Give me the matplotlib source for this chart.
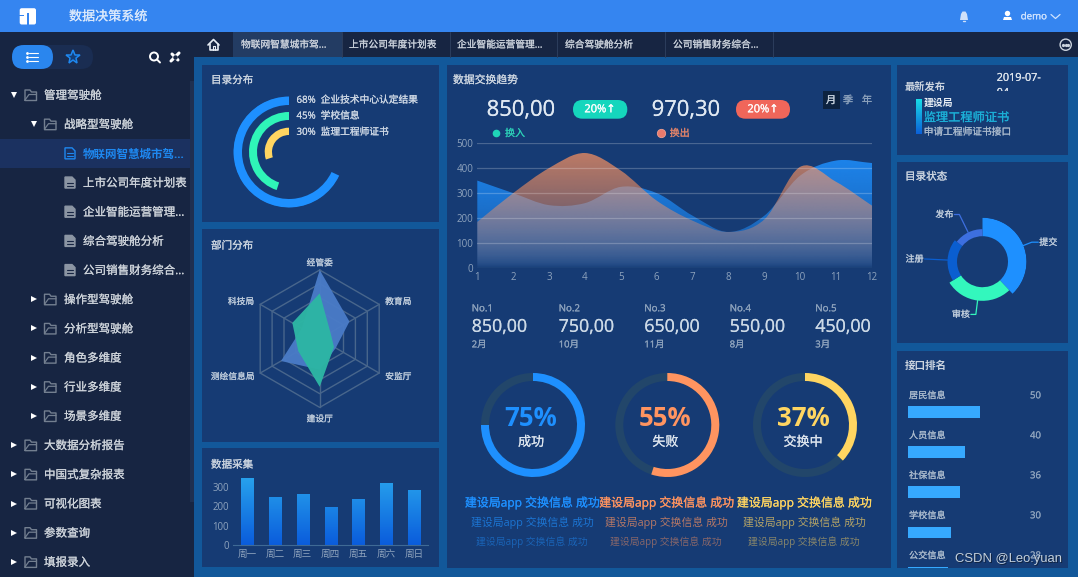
import numpy as np
import matplotlib
matplotlib.use("Agg")
import matplotlib.pyplot as plt
import matplotlib.patheffects as pe
from matplotlib.patches import Rectangle, FancyBboxPatch, PathPatch, Circle, Polygon
from matplotlib.path import Path
from matplotlib.colors import to_rgb
from matplotlib.transforms import Bbox, TransformedBbox

plt.rcParams['font.family'] = ['Open Sans', 'Noto Sans CJK SC', 'DejaVu Sans']

# ---------- data ----------
app_title = "数据决策系统"
tree_rows = [
    (0, "管理驾驶舱", "open"), (1, "战略型驾驶舱", "open"),
    (2, "物联网智慧城市驾...", "active"), (2, "上市公司年度计划表", "doc"),
    (2, "企业智能运营管理...", "doc"), (2, "综合驾驶舱分析", "doc"),
    (2, "公司销售财务综合...", "doc"), (1, "操作型驾驶舱", "shut"),
    (1, "分析型驾驶舱", "shut"), (1, "角色多维度", "shut"),
    (1, "行业多维度", "shut"), (1, "场景多维度", "shut"),
    (0, "大数据分析报告", "shut"), (0, "中国式复杂报表", "shut"),
    (0, "可视化图表", "shut"), (0, "参数查询", "shut"), (0, "填报录入", "shut"),
]
tab_names = ["物联网智慧城市驾...", "上市公司年度计划表", "企业智能运营管理...",
             "综合驾驶舱分析", "公司销售财务综合..."]

radial_pct = [68, 45, 30]
radial_names = ["企业技术中心认定结果", "学校信息", "监理工程师证书"]

radar_axes_names = ["经管委", "教育局", "安监厅", "建设厅", "测绘信息局", "科技局"]
radar_blue = [100, 50, 27, 45, 65, 30]
radar_green = [66, 18, 24, 70, 36, 46]

weekdays = ["周一", "周二", "周三", "周四", "周五", "周六", "周日"]
collect_values = [350, 250, 266, 196, 240, 320, 284]

months = [1, 2, 3, 4, 5, 6, 7, 8, 9, 10, 11, 12]
swap_in = [350, 300, 252, 260, 325, 300, 210, 145, 210, 370, 430, 420]
swap_out = [185, 300, 400, 460, 390, 270, 190, 145, 195, 405, 345, 250]

rank_no = ["No.1", "No.2", "No.3", "No.4", "No.5"]
rank_val = ["850,00", "750,00", "650,00", "550,00", "450,00"]
rank_month = ["2月", "10月", "11月", "8月", "3月"]

gauge_pct = [75, 55, 37]
gauge_names = ["成功", "失败", "交换中"]
ticker_text = "建设局app 交换信息 成功"

status_names = ["提交", "审核", "注册", "发布"]
status_values = [38, 28, 19.5, 14.5]

iface_names = ["居民信息", "人员信息", "社保信息", "学校信息", "公交信息"]
iface_values = [50, 40, 36, 30, 28]

# ---------- palette ----------
W, H = 1078, 577
C_TOP = "#3585f0"; C_SIDE = "#172542"; C_BG = "#12589a"; C_PANEL = "#163b74"
C_TXT = "#ccd5e0"; C_DIM = "#8ea3bd"; C_BLUE = "#1e90ff"; C_TEAL = "#2ff5b8"
C_YEL = "#ffd561"; C_ORG = "#ff9460"

fig = plt.figure(figsize=(W / 100, H / 100), dpi=100, facecolor=C_BG)
ui = fig.add_axes([0, 0, 1, 1])
ui.set_xlim(0, W); ui.set_ylim(H, 0); ui.axis('off')


def T(x, y, s, size=7, color=C_TXT, ha='left', va='center', heavy=0.14, **kw):
    t = ui.text(x, y + 0.8, s, fontsize=size, color=color, ha=ha, va=va, **kw)
    if heavy:
        t.set_path_effects([pe.withStroke(linewidth=heavy, foreground=color)])
    return t


def box(x0, y0, x1, y1, color, **kw):
    ui.add_patch(Rectangle((x0, y0), x1 - x0, y1 - y0, facecolor=color, edgecolor='none', **kw))


def pill(x0, y0, x1, y1, color):
    r = (y1 - y0) / 2
    ui.add_patch(FancyBboxPatch((x0 + r, y0 + r), x1 - x0 - 2 * r, 0,
                                boxstyle=f"round,pad={r},rounding_size={r}",
                                facecolor=color, edgecolor='none', mutation_aspect=1))


def line(xs, ys, color, lw=1.0, **kw):
    ui.plot(xs, ys, color=color, lw=lw, solid_capstyle='round', **kw)


def sub_axes(x0, y0, x1, y1):
    a = fig.add_axes([x0 / W, 1 - y1 / H, (x1 - x0) / W, (y1 - y0) / H])
    a.patch.set_alpha(0)
    return a


def polar_axes(cx, cy, R, rmax=None, ccw=False):
    a = fig.add_axes([(cx - R) / W, 1 - (cy + R) / H, 2 * R / W, 2 * R / H], projection='polar')
    a.set_theta_zero_location('N')
    a.set_theta_direction(1 if ccw else -1)
    a.patch.set_alpha(0)
    a.axis('off')
    a.set_ylim(0, rmax if rmax else R)
    return a


# ---------- frame ----------
box(0, 0, W, 32, C_TOP)
box(0, 32, 194, H, C_SIDE)
box(194, 32, W, 57, C_SIDE)
box(190, 81, 194, 502, "#1f3050")
for px in [(201.7, 65, 439.3, 221.7), (201.7, 229, 439.3, 441.7), (201.7, 448.3, 439.3, 566.7),
           (446.7, 65, 890.7, 568.3), (897.3, 65, 1068.3, 155), (897.3, 161.7, 1068.3, 343.3),
           (897.3, 351, 1068.3, 568.3)]:
    box(px[0], px[1], px[2], px[3], C_PANEL)

# top bar
ui.add_patch(FancyBboxPatch((20, 8.5), 15.7, 15.7, boxstyle="round,pad=0.3,rounding_size=2",
                            facecolor='white', edgecolor='none'))
box(26.8, 13, 29, 25, C_TOP)
box(19, 14.8, 24, 16.2, C_TOP)
T(69, 16, app_title, 9.4, "#dbe9fc")
# bell
ui.add_patch(Polygon([(960, 20), (961, 14), (962.5, 11.5), (965.5, 11.5), (967, 14), (968, 20)],
                     facecolor="#cfe0f9", edgecolor='none'))
line([963, 965], [21, 21], "#cfe0f9", 1.0)
# user
ui.add_patch(Circle((1007.5, 13.5), 2.7, facecolor='white', edgecolor='none'))
ui.add_patch(Polygon([(1003, 20), (1004, 17), (1011, 17), (1012, 20)], facecolor='white', edgecolor='none'))
T(1020.7, 16, "demo", 7, "#cfe3ff")
line([1051, 1055.5, 1060], [14.5, 18.5, 14.5], "#cfe3ff", 0.9)

# tabs
box(233, 32, 341.7, 57, "#233c63")
home_x = [208, 213.5, 219]
line(home_x, [45, 39.5, 45], "#e6ecf3", 1.2)
line([209.5, 209.5, 217.5, 217.5], [44, 50, 50, 44], "#e6ecf3", 1.2)
line([212.5, 212.5, 214.5, 214.5], [50, 46, 46, 50], "#e6ecf3", 0.8)
for i, name in enumerate(tab_names):
    T(241 + 108 * i, 44.3, name, 7, "#c9d0da")
    xd = 341.7 + 107.8 * i
    line([xd, xd], [32, 57], "#2c3d5c", 0.7)
ui.add_patch(Circle((1065.7, 44.7), 5.6, facecolor='none', edgecolor="#cbd3dd", lw=1.0))
ui.plot([1063, 1065.7, 1068.4], [44.7] * 3, ls='none', marker='o', ms=1.3, color="#cbd3dd")

# sidebar head
pill(12, 45, 93, 69, "#1a2d52")
pill(12, 45, 53, 69, "#2a86ee")
for dy in (-4, 0, 4):
    line([29, 38], [57 + dy, 57 + dy], 'white', 0.8)
    ui.plot([26.5], [57 + dy], marker='o', ms=1.0, color='white')
ui.plot([73], [57], marker='*', ms=10.5, mfc="#143f78", mec="#1e88f0", mew=1.1)
ui.add_patch(Circle((154, 56.5), 4, facecolor='none', edgecolor='white', lw=1.4))
line([157, 160], [59.5, 62.5], 'white', 1.4)
line([171, 179], [61, 53], 'white', 2.2)
line([172, 178], [54, 60], 'white', 2.2)
ui.plot([175], [57], marker='o', ms=2.2, color=C_SIDE)

# tree
FOLD = "#737f90"
for i, (level, name, kind) in enumerate(tree_rows):
    y = 95 + 29.18 * i
    if kind in ("open", "shut"):
        xc = 14 + 19.5 * level
        xf = 31 + 19.5 * level
        xt = 44 + 20 * level
        ui.plot([xc], [y], marker='v' if kind == "open" else '>', ms=4.2, color='white', mew=0)
        line([xf - 6, xf - 6, xf - 1, xf + 0.5, xf + 5.5, xf + 5.5, xf - 6],
             [y + 5, y - 5, y - 5, y - 3, y - 3, y + 5.5, y + 5.5], FOLD, 1.0)
        line([xf - 6, xf - 2, xf + 5.5], [y + 5, y - 0.5, y - 0.5], FOLD, 0.9)
        T(xt, y - 0.3, name, 8.3, "#cdd3da")
    else:
        active = kind == "active"
        col = "#1e88f0" if active else "#8b95a3"
        if active:
            box(0, y - 14.6, 190, y + 14.6, "#1b3160")
        ui.add_patch(Polygon([(65, y - 5.5), (72, y - 5.5), (75, y - 2.5), (75, y + 5.5), (65, y + 5.5)],
                             facecolor=col if not active else 'none', edgecolor=col, lw=1))
        for dy, c in ((0, C_SIDE), (3, C_SIDE)):
            line([67, 73], [y + dy, y + dy], col if active else c, 0.8)
        T(83, y - 0.3, name, 8.3, "#1e88f0" if active else "#cdd3da", fontweight='bold' if active else 'normal',
          heavy=0 if active else 0.14)

# ---------- panel titles ----------
T(211, 80, "目录分布", 7.6)
T(211, 245.5, "部门分布", 7.6)
T(211, 464.5, "数据采集", 7.6)
T(453, 80, "数据交换趋势", 7.8)
T(905, 86, "最新发布", 7.4, fontweight='bold', heavy=0)
T(905, 176.5, "目录状态", 7.6)
T(905, 365.5, "接口排名", 7.6, fontweight='bold', heavy=0)

# ---------- radial rings ----------
rad = polar_axes(289, 152, 56, ccw=True)
for pct, rin, rout, col in zip(radial_pct, [47, 32, 17], [55.5, 40, 24.3], [C_BLUE, C_TEAL, C_YEL]):
    rad.bar(0, rout - rin, width=np.deg2rad(pct / 100 * 360), bottom=rin, align='edge', color=col, lw=0)
rad.set_ylim(0, 56)
for pct, name, y in zip(radial_pct, radial_names, [99.5, 115.3, 131.5]):
    T(296.5, y, f"{pct}%", 7, "#cdd7e4")
    T(320.7, y, name, 7, "#cdd7e4")

# ---------- radar ----------
theta = np.deg2rad(np.arange(6) * 60)
radar = polar_axes(319.7, 338.7, 68.7, rmax=100)
GRID = "#48668c"
for lv in [20, 40, 60, 80, 100]:
    radar.plot(np.r_[theta, theta[0]], [lv] * 7, color=GRID, lw=1.0, clip_on=False)
for t in theta:
    radar.plot([t, t], [0, 100], color=GRID, lw=1.0, clip_on=False)
radar.fill(np.r_[theta, theta[0]], radar_blue + radar_blue[:1], color="#4a7cc8", lw=0, alpha=0.95, zorder=3)
radar.fill(np.r_[theta, theta[0]], radar_green + radar_green[:1], color="#2db6a4", lw=0, alpha=0.97, zorder=4)
radar.set_ylim(0, 100)
for name, (lx, ly) in zip(radar_axes_names, [(319.7, 262.3), (398.3, 301), (398.3, 376),
                                             (319.7, 418.3), (232.7, 376), (241, 301)]):
    T(lx, ly, name, 6.3, "#c0cddc", ha='center')


def vgrad(ax, extent, top_rgb, bot_rgb, n=200):
    f = np.linspace(0, 1, n)
    arr = np.zeros((n, 1, 3))
    arr[:, 0, :] = np.outer(f, top_rgb) + np.outer(1 - f, bot_rgb)
    return ax.imshow(arr, extent=extent, origin='lower', aspect='auto', interpolation='bilinear')


# ---------- bars ----------
bar_ax = sub_axes(233, 472, 428.3, 544.8)
bx = np.arange(len(weekdays))
bars = bar_ax.bar(bx, collect_values, width=0.44, color='none', lw=0)
for rect in bars:
    x0 = rect.get_x()
    im = vgrad(bar_ax, [x0, x0 + rect.get_width(), 0, 380], to_rgb("#2aa8ee"), to_rgb("#0a5cdc"))
    im.set_clip_path(rect)
bar_ax.set_xlim(-0.5, 6.5); bar_ax.set_ylim(0, 380)
for s in ['top', 'right', 'left']:
    bar_ax.spines[s].set_visible(False)
bar_ax.spines['bottom'].set_color("#3f6a95"); bar_ax.spines['bottom'].set_linewidth(0.8)
bar_ax.set_xticks(bx, weekdays)
bar_ax.set_yticks([0, 100, 200, 300])
bar_ax.tick_params(length=0, labelsize=6.9, labelcolor=C_DIM, pad=3)

# ---------- area chart ----------
area = sub_axes(477.3, 143, 872, 268.3)


def smooth_path(xs, ys):
    xs = np.asarray(xs, float); ys = np.asarray(ys, float)
    m = np.gradient(ys, xs)
    verts = [(xs[0], 0), (xs[0], ys[0])]
    codes = [Path.MOVETO, Path.LINETO]
    for i in range(len(xs) - 1):
        h = (xs[i + 1] - xs[i]) / 3
        verts += [(xs[i] + h, ys[i] + m[i] * h), (xs[i + 1] - h, ys[i + 1] - m[i + 1] * h), (xs[i + 1], ys[i + 1])]
        codes += [Path.CURVE4] * 3
    verts += [(xs[-1], 0), (xs[0], 0)]
    codes += [Path.LINETO, Path.CLOSEPOLY]
    return Path(verts, codes)


for series, rgb, a_top, power, z in [(swap_in, to_rgb(C_BLUE), 0.85, 0.5, 1), (swap_out, to_rgb(C_ORG), 0.72, 0.7, 2)]:
    patch = PathPatch(smooth_path(months, series), facecolor='none', edgecolor='none')
    area.add_patch(patch)
    top = max(series)
    n = 200
    f = np.linspace(0, 1, n)
    arr = np.zeros((n, 1, 4))
    arr[:, 0, :3] = rgb
    arr[:, 0, 3] = np.clip(a_top * f ** power, 0, 1)
    im = area.imshow(arr, extent=[months[0], months[-1], 0, top], origin='lower', aspect='auto',
                     interpolation='bilinear', zorder=z)
    im.set_clip_path(patch)
area.set_xlim(months[0], months[-1]); area.set_ylim(0, 500)
area.set_xticks(months)
area.set_yticks([0, 100, 200, 300, 400, 500])
area.grid(axis='y', color='white', alpha=0.22, lw=0.9, zorder=5)
area.set_axisbelow(False)
for s in area.spines.values():
    s.set_visible(False)
area.tick_params(length=0, labelsize=7, labelcolor=C_DIM, pad=3)
for lab in area.get_xticklabels() + area.get_yticklabels():
    lab.set_clip_on(False)

# head of the area chart
T(486.7, 109.5, "850,00", 15.8, "#dfe8f2")
T(651.7, 109.5, "970,30", 15.8, "#dfe8f2")
pill(573, 100, 627.3, 118.7, "#15d6bd")
pill(736, 100, 790, 118.7, "#f0665a")
T(600, 109, "20%↑", 8, 'white', ha='center', family=['Open Sans', 'DejaVu Sans'])
T(763, 109, "20%↑", 8, 'white', ha='center', family=['Open Sans', 'DejaVu Sans'])
ui.plot([496], [132.7], marker='o', ms=5.5, color="#1fd6b8", mew=0)
T(505, 133, "换入", 7.2, "#2ccdb6")
ui.plot([660.7], [132.7], marker='o', ms=6, color="#ea7a6c", mec="#f0a090", mew=0.6)
T(669.7, 133, "换出", 7.2, "#e0836a")
box(822.7, 91, 840, 109.3, "#0d2340")
for s, x, c in zip("月季年", [831, 848, 867], ["#c8d3df", C_DIM, C_DIM]):
    T(x, 100, s, 7.4, c, ha='center')

# ranks
for no, val, mon, x in zip(rank_no, rank_val, rank_month, [471.7, 558.7, 644.3, 729.7, 815.3]):
    T(x, 308, no, 7, C_DIM)
    T(x, 326, val, 12.8, "#ccd9e6")
    T(x, 344, mon, 6.8, C_DIM)

# gauges
g_cols = [C_BLUE, C_ORG, C_YEL]
for pct, name, col, cx, tx in zip(gauge_pct, gauge_names, g_cols, [533, 667.3, 805], [531, 665.3, 803]):
    g = polar_axes(cx, 425, 53)
    g.bar(0, 8, width=2 * np.pi, bottom=44, align='edge', color="#22466a", lw=0)
    g.bar(0, 8, width=np.deg2rad(pct * 3.6), bottom=44, align='edge', color=col, lw=0)
    g.set_ylim(0, 53)
    T(tx, 417.5, f"{pct}%", 18.5, col, ha='center', fontweight='bold', heavy=0)
    T(tx, 441.5, name, 9.4, "#dde5ee", ha='center')
    for y, sz, al in zip([502.2, 521.8, 541.2], [8.6, 7.8, 7.1], [1, 0.68, 0.48]):
        T(tx + 1, y, ticker_text, sz, col, ha='center', alpha=al, zorder=3 if al == 1 else 2,
          heavy=0.14 if al == 1 else 0)

# ---------- latest ----------
T(996.7, 77.5, "2019-07-", 7.8, "#dfe6ee")
cut = T(996.7, 92.5, "04", 7.8, "#dfe6ee")
cut.set_clip_box(TransformedBbox(Bbox([[990, 60], [1060, 90.7]]), ui.transData))
cut.set_clip_on(True)
strip = sub_axes(916, 99.3, 921.7, 134.3)
vgrad(strip, [0, 1, 0, 1], to_rgb("#18e0e8"), to_rgb("#0b5fd8"))
strip.axis('off')
T(923.7, 102.2, "建设局", 7.1, "#e6ecf3", fontweight='bold', heavy=0)
T(923.7, 117, "监理工程师证书", 8.8, "#1cb0d8")
T(923.7, 131.5, "申请工程师证书接口", 7, "#a9b9cc")

# ---------- status rose ring ----------
rose_c = (982.5, 261.7)
R_in, R_max = 25.5, 44
rose = polar_axes(rose_c[0], rose_c[1], R_max)
vals = np.array(status_values, float)
sweep = vals / vals.sum() * 2 * np.pi
start = np.r_[0, np.cumsum(sweep)[:-1]]
outer = R_in + vals / vals.max() * (R_max - R_in)
s_cols = [C_BLUE, "#33f7bd", "#0a5ed0", "#3d6fe0"]
rose.bar(start, outer - R_in, width=sweep, bottom=R_in, align='edge', color=s_cols, lw=0)
rose.set_ylim(0, R_max)
leaders = [(9, 6.5, 1), (14, 5, -1), (23, 0, -1), (20, 5, -1)]
for name, st, sw, ro, col, (l1, l2, side) in zip(status_names, start, sweep, outer, s_cols, leaders):
    mid = st + sw / 2
    x0, y0 = rose_c[0] + ro * np.sin(mid), rose_c[1] - ro * np.cos(mid)
    x1, y1 = rose_c[0] + (ro + l1) * np.sin(mid), rose_c[1] - (ro + l1) * np.cos(mid)
    x2 = x1 + side * l2
    line([x0, x1, x2], [y0, y1, y1], col, 0.9)
    T(x2 + side * 1, y1 - 0.5, name, 6.5, "#c0cddc", ha='left' if side > 0 else 'right')

# ---------- interface ranking ----------
rank_ax = sub_axes(907.7, 351, 907.7 + 1.44 * 60, 568.3)
ry = np.arange(len(iface_values))
rank_ax.barh(ry, iface_values, height=0.285, color="#36a9ff", lw=0)
rank_ax.set_xlim(0, 60)
rank_ax.set_ylim(3.9, -1.525)
rank_ax.axis('off')
for i, (name, v) in enumerate(zip(iface_names, iface_values)):
    y = 395 + 40 * i
    T(909, y, name, 6.6, "#a9b9cc")
    T(1030, y, str(v), 6.9, C_DIM)

# watermark
fig.text(956 / W, 1 - 560 / H, "CSDN @Leo.yuan", fontsize=9.4, color="#11233f", family='Liberation Sans',
         ha='left', va='center', zorder=19)
fig.text(955 / W, 1 - 559 / H, "CSDN @Leo.yuan", fontsize=9.4, color="#c4d0dc", family='Liberation Sans',
         ha='left', va='center', zorder=20)

fig.savefig("out.png", dpi=100, facecolor=fig.get_facecolor())
